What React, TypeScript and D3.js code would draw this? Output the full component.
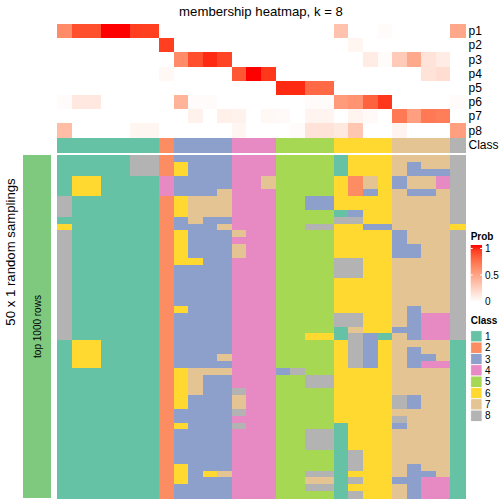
import React from "react";
import * as d3 from "d3";

const probLabels = ["p1", "p2", "p3", "p4", "p5", "p6", "p7", "p8"];

const p1 = [0.6, 0.85, 0.85, 1, 1, 0.9, 0.9, 0, 0, 0, 0, 0, 0, 0, 0, 0, 0, 0, 0, 0.32, 0, 0, 0.02, 0, 0, 0, 0, 0.46];
const p2 = [0, 0, 0, 0, 0, 0, 0, 0.9, 0, 0, 0, 0, 0, 0, 0, 0, 0, 0, 0, 0, 0.05, 0, 0, 0, 0, 0, 0, 0];
const p3 = [0, 0, 0, 0, 0, 0, 0, 0, 0.6, 0.85, 0.95, 0.88, 0, 0, 0, 0, 0, 0, 0, 0, 0, 0.1, 0.02, 0.28, 0.45, 0.15, 0.1, 0];
const p4 = [0, 0, 0, 0, 0, 0, 0, 0.04, 0, 0, 0, 0, 0.82, 1, 0.92, 0, 0, 0, 0, 0, 0, 0, 0, 0, 0, 0.15, 0.18, 0];
const p5 = [0, 0, 0, 0, 0, 0, 0, 0, 0, 0, 0, 0, 0, 0, 0, 0.95, 0.95, 0.75, 0.75, 0, 0, 0, 0, 0, 0, 0, 0, 0];
const p6 = [0.02, 0.12, 0.12, 0, 0, 0, 0, 0, 0.4, 0.02, 0.02, 0, 0, 0, 0, 0, 0, 0.02, 0.02, 0.52, 0.56, 0.78, 0.92, 0, 0, 0, 0, 0.02];
const p7 = [0, 0, 0, 0, 0, 0, 0, 0, 0, 0.07, 0, 0.08, 0.07, 0, 0.04, 0.03, 0, 0.06, 0.06, 0, 0.06, 0.03, 0, 0.68, 0.5, 0.68, 0.66, 0];
const p8 = [0.35, 0, 0, 0, 0, 0.05, 0.05, 0, 0, 0, 0, 0, 0.05, 0, 0, 0, 0.02, 0.15, 0.15, 0.12, 0.3, 0, 0, 0.06, 0, 0, 0, 0.5];
const probRows = [p1, p2, p3, p4, p5, p6, p7, p8];

const classRow = "1111111233334445555666677778";

const samplings = [
  "1111188233334445555166677778",
  "1111188263334445555166673778",
  "1111188263334445555166673338",
  "1661111433334475555627637748",
  "1661111433334475555627637748",
  "1661111433374445555623673378",
  "8111111267774445533666677778",
  "8111111267774445533666677778",
  "8111111267774445555136677778",
  "1111111237334445555886677778",
  "6111111233374445588663377776",
  "8111111263337445555666637778",
  "8111111263334445555666637778",
  "8111111263337445555666633778",
  "8111111263337445555666633778",
  "8111111266334445555886677778",
  "8111111233334445555886677778",
  "8111111233334445555886677778",
  "8111111233334445555666677778",
  "8111111233334445555666677778",
  "8111111233334445555666677778",
  "8111111233334445555666677778",
  "8111111263334445555666673778",
  "8111111233334445555886673448",
  "8111111233334445555886673448",
  "8111111233334445555176633448",
  "8111111233334445566183173448",
  "1661111233334445555683677771",
  "1661111233334445555683673771",
  "1661111233374445555683673371",
  "1661111233334445555683673441",
  "1111111267774443855666677771",
  "1111111267334445588666677771",
  "1111111267334445588666677771",
  "1111111267338445555666677771",
  "1111111263337445555666683771",
  "1111111263337445555666683771",
  "1111111233338445555666677771",
  "1111111233334445555666687771",
  "1111111263338445555166637771",
  "1111111233334445588166677771",
  "1111111233334445588166677771",
  "1111111233334445588166677771",
  "1111111233334445555186677771",
  "1111111233334445555186677771",
  "1111111263334445555186673771",
  "1111111263674445588166673371",
  "1111111263334445577186633441",
  "1111111233334445588166673441",
  "1111111233334445555186673441",
];

const classKeys = ["1", "2", "3", "4", "5", "6", "7", "8"];
const classColors = ["#66C2A5", "#FC8D62", "#8DA0CB", "#E78AC3", "#A6D854", "#FFD92F", "#E5C494", "#B3B3B3"];
const probTicks = [1, 0.5, 0];

const FONT = "'Liberation Sans', Arial, Helvetica, sans-serif";

export default function App() {
  const nCol = classRow.length;
  const x = d3.scaleBand<number>().domain(d3.range(nCol)).range([57, 465]).padding(0);
  const yProb = d3.scaleBand<number>().domain(d3.range(8)).range([24, 137.7]).padding(0);
  const yBody = d3.scaleBand<number>().domain(d3.range(samplings.length)).range([155, 498]).padding(0);
  const probColor = d3.scaleLinear<string>().domain([0, 1]).range(["#FFFFFF", "#FF0000"]).interpolate(d3.interpolateLab);
  const classColor = d3.scaleOrdinal<string, string>().domain(classKeys).range(classColors);
  const classTop = 137.7;
  const classBottom = 152.6;

  const gradTop = 245;
  const gradBottom = 302;
  const gradY = d3.scaleLinear().domain([0, 1]).range([301.5, 248.5]);
  const gradStops = d3.range(0, 1.0001, 0.1);

  const legX = 470.7;
  const legW = 11.34;
  const boxTop = 330.7;
  const boxH = 11.34;

  return (
    <div style={{ position: "absolute", left: 0, top: 0 }}>
      <svg width={504} height={504} style={{ display: "block", fontFamily: FONT }}>
        <defs>
          <linearGradient id="probGrad" x1="0" y1="1" x2="0" y2="0">
            {gradStops.map((t) => (
              <stop key={t} offset={t} stopColor={probColor(t)} />
            ))}
          </linearGradient>
        </defs>
        <rect width={504} height={504} fill="#FFFFFF" />

        <text x={261} y={16} fontSize={13.2} textAnchor="middle" fill="#000">
          membership heatmap, k = 8
        </text>

        <g shapeRendering="crispEdges">
          {probRows.map((row, r) =>
            row.map((v, c) => (
              <rect
                key={`p${r}-${c}`}
                x={x(c)!}
                y={yProb(r)!}
                width={x.bandwidth() + 0.5}
                height={yProb.bandwidth() + 0.5}
                fill={probColor(v)}
              />
            ))
          )}
          {classRow.split("").map((k, c) => (
            <rect key={`c${c}`} x={x(c)!} y={classTop} width={x.bandwidth() + 0.5} height={classBottom - classTop} fill={classColor(k)} />
          ))}
          {samplings.map((row, r) =>
            row.split("").map((k, c) => (
              <rect
                key={`s${r}-${c}`}
                x={x(c)!}
                y={yBody(r)!}
                width={x.bandwidth() + 0.5}
                height={yBody.bandwidth() + 0.5}
                fill={classColor(k)}
              />
            ))
          )}
          <rect x={22.7} y={155} width={28} height={343} fill="#7FC97F" />
        </g>

        {probLabels.map((lab, r) => (
          <text key={lab} x={468.5} y={yProb(r)! + yProb.bandwidth() / 2} fontSize={12} dominantBaseline="central" fill="#000">
            {lab}
          </text>
        ))}
        <text x={468.5} y={(classTop + classBottom) / 2} fontSize={12} dominantBaseline="central" fill="#000">
          Class
        </text>

        <text x={37} y={326.5} fontSize={10} textAnchor="middle" dominantBaseline="central" transform="rotate(-90 37 326.5)" fill="#000">
          top 1000 rows
        </text>
        <text x={10} y={252} fontSize={13.2} textAnchor="middle" dominantBaseline="central" transform="rotate(-90 10 252)" fill="#000">
          50 x 1 random samplings
        </text>

        <text x={legX} y={240} fontSize={10} fontWeight="bold" fill="#000">
          Prob
        </text>
        <rect x={legX} y={gradTop} width={legW} height={gradBottom - gradTop} fill="url(#probGrad)" />
        {probTicks.map((t) => (
          <g key={`t${t}`}>
            {t > 0 && (
              <>
                <line x1={legX} x2={legX + 2} y1={gradY(t)} y2={gradY(t)} stroke="#FFFFFF" strokeWidth={1} />
                <line x1={legX + legW - 2} x2={legX + legW} y1={gradY(t)} y2={gradY(t)} stroke="#FFFFFF" strokeWidth={1} />
              </>
            )}
            <text x={485} y={gradY(t)} fontSize={10} dominantBaseline="central" fill="#000">
              {String(t)}
            </text>
          </g>
        ))}

        <text x={legX} y={324} fontSize={10} fontWeight="bold" fill="#000">
          Class
        </text>
        {classKeys.map((k, i) => (
          <g key={`l${k}`}>
            <rect x={legX} y={boxTop + i * boxH} width={legW} height={boxH} fill={classColor(k)} stroke="#FFFFFF" strokeWidth={0.8} />
            <text x={485} y={boxTop + i * boxH + boxH / 2} fontSize={10} dominantBaseline="central" fill="#000">
              {k}
            </text>
          </g>
        ))}
      </svg>
    </div>
  );
}
